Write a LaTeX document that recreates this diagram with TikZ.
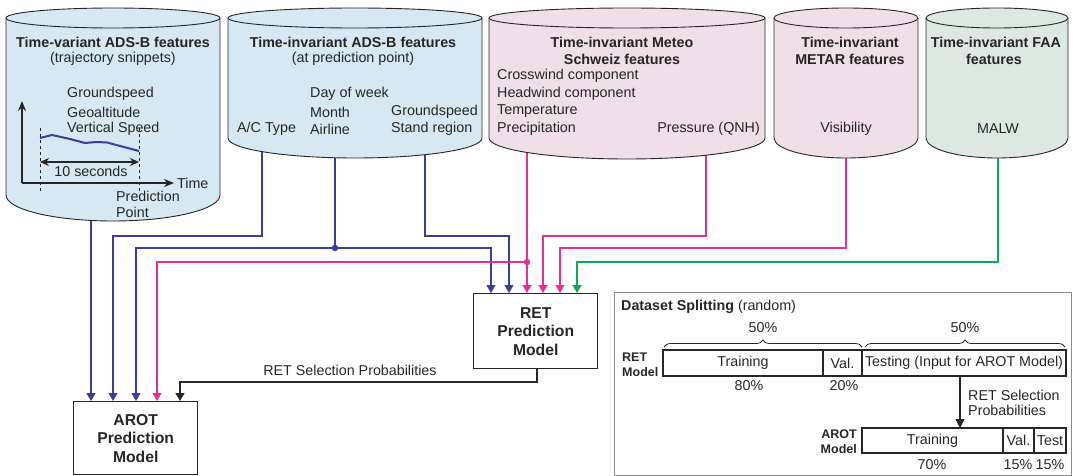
\documentclass[tikz,border=0pt]{standalone}
\usepackage{fontspec}
\setmainfont{Liberation Sans}
\usetikzlibrary{arrows.meta,decorations.pathreplacing}
\definecolor{cblue}{HTML}{D6E8F1}
\definecolor{cpink}{HTML}{EFDFE7}
\definecolor{cgreen}{HTML}{DDE8E2}
\definecolor{lblue}{HTML}{3A3D98}
\definecolor{lpink}{HTML}{EC2D92}
\definecolor{lgreen}{HTML}{12A85A}
\definecolor{dark}{HTML}{262626}
\definecolor{pgray}{HTML}{8C8C8C}
\newcommand\cylshape[5]{%
  \pgfmathsetmacro\crx{(#2-#1)/2}%
  \filldraw[fill=#5, draw=dark, line width=0.9pt] (#1,18) -- (#1,#3)
     arc[start angle=180,end angle=360,x radius=\crx pt,y radius=#4pt] -- (#2,18)
     arc[start angle=0,end angle=180,x radius=\crx pt,y radius=10pt] -- cycle;
  \draw[dark, line width=0.9pt] (#1,18) arc[start angle=180,end angle=360,x radius=\crx pt,y radius=10pt];
}
\tikzset{
  txt/.style={inner sep=0pt, font=\fontsize{14.3}{17}\selectfont, text=dark},
  ttl/.style={inner sep=0pt, font=\fontsize{14.3}{17}\selectfont\bfseries, text=dark},
  lbl/.style={inner sep=0pt, font=\fontsize{12.5}{15}\selectfont\bfseries, text=dark},
  conn/.style={line width=1.3pt, -{Triangle[width=9pt,length=8pt]}},
  model/.style={draw=dark, line width=1.4pt, minimum width=124pt, inner sep=0pt, align=center,
     font=\fontsize{15.7}{18.5}\selectfont\bfseries, text=dark},
  cell/.style={draw=dark, line width=1.1pt, inner sep=0pt, outer sep=0pt, anchor=north west,
     font=\fontsize{14.3}{17}\selectfont, text=dark},
  dot/.style={circle, inner sep=0pt, minimum size=6.5pt}
}
\begin{document}
\begin{tikzpicture}[x=1pt,y=-1pt]
\useasboundingbox (0,0) rectangle (1073,476);

% anchor coordinates
\coordinate (s1) at (91,200);
\coordinate (s2) at (262,140);
\coordinate (s3) at (335,140);
\coordinate (s4) at (425,140);
\coordinate (s5) at (527,140);
\coordinate (s6) at (706,140);
\coordinate (s7) at (846,140);
\coordinate (s8) at (998,140);
\coordinate (h1) at (0,236);
\coordinate (h2) at (0,248);
\coordinate (h3) at (0,262);
\coordinate (h4) at (0,382);

% model boxes
\node[model, minimum height=75pt, anchor=north west] (ret) at (473,293) {RET\\Prediction\\Model};
\node[model, minimum height=73pt, anchor=north west] (arot) at (73,401) {AROT\\Prediction\\Model};

\coordinate (a1) at ([xshift=18pt]arot.north west);
\coordinate (a2) at ([xshift=40pt]arot.north west);
\coordinate (a3) at ([xshift=63pt]arot.north west);
\coordinate (a4) at ([xshift=84pt]arot.north west);
\coordinate (a5) at ([xshift=107pt]arot.north west);
\coordinate (r1) at ([xshift=18pt]ret.north west);
\coordinate (r2) at ([xshift=36pt]ret.north west);
\coordinate (r3) at ([xshift=54pt]ret.north west);
\coordinate (r4) at ([xshift=70pt]ret.north west);
\coordinate (r5) at ([xshift=87pt]ret.north west);
\coordinate (r6) at ([xshift=104pt]ret.north west);
\coordinate (rb) at ([xshift=64pt]ret.south west);

% connectors
\draw[conn, lblue] (s1) -- (a1);
\draw[conn, lblue] (s2) -- (s2 |- h1) -| (a2);
\draw[conn, lblue] (s3) -- (s3 |- h2) -| (a3);
\draw[conn, lblue] (s3 |- h2) -| (r1);
\draw[conn, lblue] (s4) -- (s4 |- h1) -| (r2);
\draw[conn, lpink] (s5) -- (r3);
\draw[conn, lpink] (s5 |- h3) -| (a4);
\draw[conn, lpink] (s6) -- (s6 |- h1) -| (r4);
\draw[conn, lpink] (s7) -- (s7 |- h2) -| (r5);
\draw[conn, lgreen] (s8) -- (s8 |- h3) -| (r6);
\draw[conn, dark, line width=1.2pt] (rb) -- (rb |- h4) -| (a5);
\node[dot, fill=lblue] (d1) at (s3 |- h2) {};
\node[dot, fill=lpink] (d2) at (s5 |- h3) {};
\node[txt] (selp) at (350,370) {RET Selection Probabilities};

% cylinders
\cylshape{6}{220}{195}{26}{cblue}
\cylshape{228}{482}{138}{20}{cblue}
\cylshape{489}{765}{138}{21}{cpink}
\cylshape{774}{918}{138}{20}{cpink}
\cylshape{926}{1068}{138}{20}{cgreen}

% cylinder 1 content
\node[ttl] (t1a) at (113,42) {Time-variant ADS-B features};
\node[txt] (t1b) at (113,59) {(trajectory snippets)};
\node[txt, anchor=west] (g1) at (67,94) {Groundspeed};
\node[txt, anchor=west] (g2) at (67,112) {Geoaltitude};
\node[txt, anchor=west] (g3) at (67,129) {Vertical Speed};
\coordinate (ax0) at (22,183);
\draw[line width=1.3pt, dark, -{Stealth[length=10pt,width=8pt]}] (ax0) -- (22,101);
\draw[line width=1.3pt, dark, -{Stealth[length=10pt,width=8pt]}] (ax0) -- (174,183);
\node[txt, anchor=west] (tm) at (177,183) {Time};
\draw[dark, line width=0.9pt, dash pattern=on 3pt off 3pt] (40,128) -- (40,191);
\draw[dark, line width=0.9pt, dash pattern=on 3pt off 3pt] (139,128) -- (139,191);
\draw[lblue, line width=2pt, line join=round] (40,138) -- (52,135) -- (70,139) -- (85,143) -- (97,142) -- (107,142.5) -- (139,151);
\draw[dark, line width=1.3pt, {Stealth[length=9pt,width=8pt]}-{Stealth[length=9pt,width=8pt]}] (40,162) -- (139,162);
\node[txt] (ten) at (91,171) {10 seconds};
\node[txt, anchor=west] (pp1) at (116,196) {Prediction};
\node[txt, anchor=west] (pp2) at (116,212) {Point};

% cylinder 2 content
\node[ttl] (t2a) at (353,42) {Time-invariant ADS-B features};
\node[txt] (t2b) at (353,59) {(at prediction point)};
\node[txt, anchor=west] (f21) at (310,94) {Day of week};
\node[txt, anchor=west] (f22) at (310,112) {Month};
\node[txt, anchor=west] (f23) at (391,112) {Groundspeed};
\node[txt, anchor=west] (f24) at (237,129) {A/C Type};
\node[txt, anchor=west] (f25) at (310,129) {Airline};
\node[txt, anchor=west] (f26) at (391,129) {Stand region};

% cylinder 3 content
\node[ttl] (t3a) at (622,42) {Time-invariant Meteo};
\node[ttl] (t3b) at (622,59) {Schweiz features};
\node[txt, anchor=west] (f31) at (497,76) {Crosswind component};
\node[txt, anchor=west] (f32) at (497,94) {Headwind component};
\node[txt, anchor=west] (f33) at (497,111) {Temperature};
\node[txt, anchor=west] (f34) at (497,129) {Precipitation};
\node[txt, anchor=east] (f35) at (760,129) {Pressure (QNH)};

% cylinder 4 content
\node[ttl] (t4a) at (850,42) {Time-invariant};
\node[ttl] (t4b) at (850,59) {METAR features};
\node[txt] (f41) at (846,129) {Visibility};

% cylinder 5 content
\node[ttl] (t5a) at (996,42) {Time-invariant FAA};
\node[ttl] (t5b) at (994,59) {features};
\node[txt] (f51) at (998,129) {MALW};

% dataset splitting panel
\node[draw=pgray, line width=1.2pt, minimum width=457pt, minimum height=183pt, inner sep=0pt, anchor=north west] (panel) at (614,292) {};
\node[txt, anchor=west] (dst) at (621,307) {\textbf{Dataset Splitting} (random)};
\node[txt] (p50a) at (763,328) {50\%};
\node[txt] (p50b) at (965,328) {50\%};
\draw[dark, line width=0.8pt, decorate, decoration={brace, amplitude=7pt}] (664,347) -- (862,347);
\draw[dark, line width=0.8pt, decorate, decoration={brace, amplitude=7pt}] (865,347) -- (1065,347);
\node[cell, minimum width=160pt, minimum height=26pt] (rtr) at (663,350) {Training};
\node[cell, minimum width=39pt, minimum height=26pt] (rva) at (823,350) {Val.};
\node[cell, minimum width=204pt, minimum height=26pt] (rte) at (862,350) {Testing (Input for AROT Model)};
\node[lbl, anchor=west] (rl1) at (622,357) {RET};
\node[lbl, anchor=west] (rl2) at (622,372) {Model};
\node[txt] (p80) at (749,386) {80\%};
\node[txt] (p20) at (844,386) {20\%};
\node[cell, minimum width=141pt, minimum height=25pt] (atr) at (862,428) {Training};
\node[cell, minimum width=31pt, minimum height=25pt] (ava) at (1003,428) {Val.};
\node[cell, minimum width=32pt, minimum height=25pt] (ate) at (1034,428) {Test};
\node[lbl, anchor=east] (al1) at (857,434) {AROT};
\node[lbl, anchor=east] (al2) at (857,449) {Model};
\node[txt] (p70) at (932,465) {70\%};
\node[txt] (p15a) at (1018,465) {15\%};
\node[txt] (p15b) at (1050,465) {15\%};
\coordinate (dsrc) at ([xshift=-4pt]rte.south);
\draw[dark, line width=1.3pt, -{Triangle[width=9pt,length=9pt]}] (dsrc) -- (dsrc |- atr.north);
\node[txt, anchor=west] (sp1) at (968,395) {RET Selection};
\node[txt, anchor=west] (sp2) at (968,410) {Probabilities};
\end{tikzpicture}
\end{document}
